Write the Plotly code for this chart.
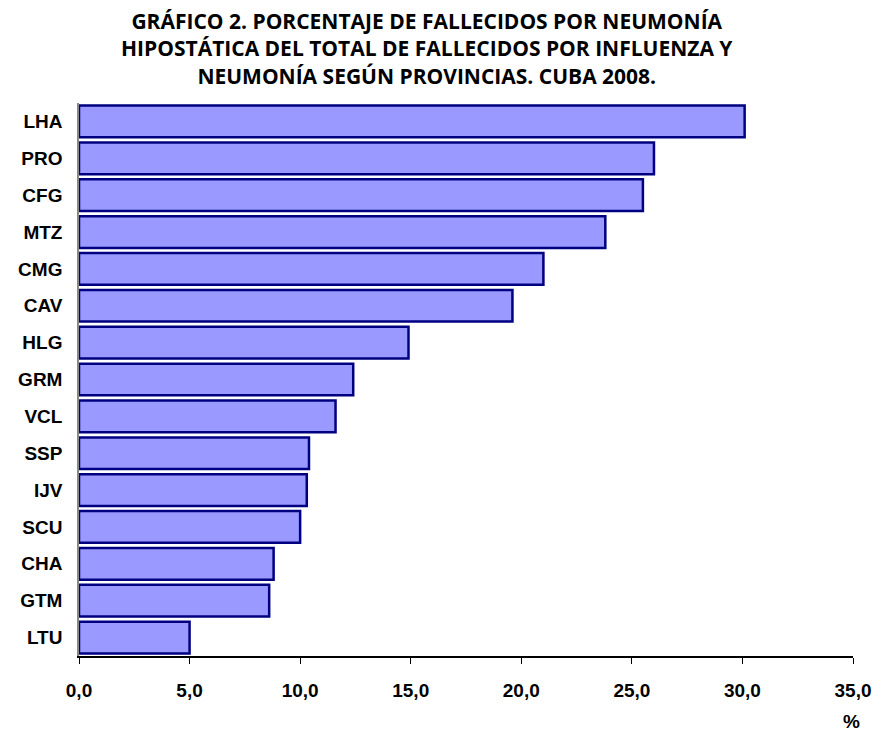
import plotly.graph_objects as go

provinces = ["LHA", "PRO", "CFG", "MTZ", "CMG", "CAV", "HLG", "GRM", "VCL", "SSP", "IJV", "SCU", "CHA", "GTM", "LTU"]
values = [30.1, 26.0, 25.5, 23.8, 21.0, 19.6, 14.9, 12.4, 11.6, 10.4, 10.3, 10.0, 8.8, 8.6, 5.0]
x_ticks = [0, 5, 10, 15, 20, 25, 30, 35]
x_tick_labels = ["0,0", "5,0", "10,0", "15,0", "20,0", "25,0", "30,0", "35,0"]

title_text = ("GRÁFICO 2. PORCENTAJE DE FALLECIDOS POR NEUMONÍA<br>"
              "HIPOSTÁTICA DEL TOTAL DE FALLECIDOS POR INFLUENZA Y<br>"
              "NEUMONÍA SEGÚN PROVINCIAS. CUBA 2008.")

fig = go.Figure()
fig.add_trace(go.Bar(
    x=values, y=provinces, orientation="h",
    marker=dict(color="#9999FF", line=dict(color="#000080", width=2.5)),
))

tick_font = dict(size=19, family="Liberation Sans, Arial, sans-serif", weight="bold", color="black")

fig.update_layout(
    width=876, height=731,
    margin=dict(l=79, r=23, t=103, b=75),
    plot_bgcolor="white", paper_bgcolor="white",
    bargap=0.14,
    showlegend=False,
    font=dict(family="Liberation Sans, Arial, sans-serif", size=19, color="black"),
    xaxis=dict(
        range=[0, 35], tickvals=x_ticks, ticktext=x_tick_labels,
        showgrid=False, zeroline=False, automargin=False,
        showline=True, linecolor="black", linewidth=1.5,
        ticks="outside", ticklen=6, tickcolor="black", tickwidth=1,
        tickfont=tick_font,
        ticklabelstandoff=10,
    ),
    yaxis=dict(
        autorange="reversed", automargin=False,
        showgrid=False, zeroline=False,
        showline=True, linecolor="#888888", linewidth=1.5,
        ticks="", tickfont=tick_font,
        ticklabelstandoff=11,
    ),
    annotations=[
        dict(text=title_text, x=0.4496, y=1.0, xref="paper", yref="paper",
             xanchor="center", yanchor="middle", yshift=55, showarrow=False,
             font=dict(size=21, family="Open Sans, sans-serif", weight="bold", color="black"),
             align="center"),
        dict(text="%", x=1.0, y=0, xref="paper", yref="paper",
             xanchor="center", yanchor="middle", yshift=-65, xshift=-2, showarrow=False,
             font=dict(size=19, family="Liberation Sans, Arial, sans-serif", weight="bold", color="black")),
    ],
)

fig.write_html(
    "out.html",
    config={"displayModeBar": False},
    post_script="document.body.style.margin='0';document.body.style.overflow='hidden';",
)
